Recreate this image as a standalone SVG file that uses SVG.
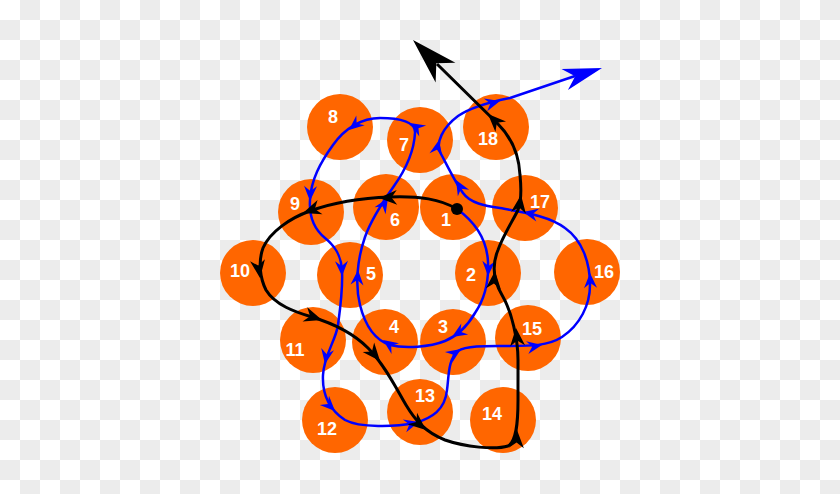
<svg xmlns="http://www.w3.org/2000/svg" width="840" height="494" viewBox="0 0 840 494">
<defs>
<pattern id="chk" width="40" height="40" patternUnits="userSpaceOnUse"><rect width="40" height="40" fill="#ffffff"/><rect x="20" y="0" width="20" height="20" fill="#ececec"/><rect x="0" y="20" width="20" height="20" fill="#ececec"/></pattern>
<path id="ab" d="M0,0 L-18,-7.5 L-12.5,0 L-18,7.5 Z" fill="#000"/>
<path id="au" d="M0,0 L-15,-6.5 L-10,0 L-15,6.5 Z" fill="#0000ff"/>
<path id="abig" d="M0,0 L-46,-14 L-33,0 L-46,14 Z" fill="#000"/>
<path id="ubig" d="M0,0 L-39,-11 L-28,0 L-39,11 Z" fill="#0000ff"/>
</defs>
<style>
.n circle{fill:#ff6600}
.n text{fill:#ffffff;font-family:"Liberation Sans",Arial,sans-serif;font-weight:bold;font-size:18px;text-anchor:middle}
.bk{fill:none;stroke:#000;stroke-width:3}
.bl{fill:none;stroke:#0000ff;stroke-width:2.5}
</style>
<rect width="840" height="494" fill="url(#chk)"/>
<g id="nodes" class="n">
<g id="n1"><circle cx="453" cy="207" r="33"/><text x="446" y="226">1</text></g>
<g id="n2"><circle cx="488" cy="273" r="33"/><text x="471" y="281">2</text></g>
<g id="n3"><circle cx="453" cy="342" r="33"/><text x="443" y="333">3</text></g>
<g id="n4"><circle cx="385" cy="342" r="33"/><text x="394" y="333">4</text></g>
<g id="n5"><circle cx="350" cy="275" r="33"/><text x="371" y="280">5</text></g>
<g id="n6"><circle cx="386" cy="207" r="33"/><text x="395" y="226">6</text></g>
<g id="n7"><circle cx="420" cy="140" r="33"/><text x="404" y="151">7</text></g>
<g id="n8"><circle cx="340" cy="127" r="33"/><text x="333" y="123">8</text></g>
<g id="n9"><circle cx="311" cy="212" r="33"/><text x="295" y="210">9</text></g>
<g id="n10"><circle cx="253" cy="273" r="33"/><text x="240" y="277">10</text></g>
<g id="n11"><circle cx="313" cy="340" r="33"/><text x="295" y="356">11</text></g>
<g id="n12"><circle cx="335" cy="420" r="33"/><text x="327" y="435">12</text></g>
<g id="n13"><circle cx="420" cy="412" r="33"/><text x="425" y="402">13</text></g>
<g id="n14"><circle cx="503" cy="420" r="33"/><text x="492" y="420">14</text></g>
<g id="n15"><circle cx="528" cy="338" r="33"/><text x="532" y="335">15</text></g>
<g id="n16"><circle cx="587" cy="272" r="33"/><text x="604" y="278">16</text></g>
<g id="n17"><circle cx="525" cy="208" r="33"/><text x="540" y="208">17</text></g>
<g id="n18"><circle cx="496" cy="127" r="33"/><text x="488" y="145">18</text></g>
</g>
<g id="connectors">
<path class="bl" d="M457,209 C475,222 487,240 488,262 C489,285 484,300 475,313 C468,325 457,336 445,341 C430,347 405,349 390,345 C375,340 365,325 360,305 C355,285 357,260 365,237 C371,220 382,203 394,186 C406,169 414,152 415,133 C416,122 400,118 380,118 C362,118 345,128 333,145 C320,163 311,180 310,200 C309,215 313,228 325,238 C335,246 341,255 342,270 C343,290 340,310 338,325 C336,340 324,355 323,375 C322,395 330,410 345,420 C360,428 395,427 415,423 C432,418 445,410 447,390 C449,375 448,360 458,351 C467,345 490,346 510,346 C530,346 548,346 562,337 C580,325 590,305 590,285 C590,262 582,240 565,228 C548,215 520,212 500,208 C485,206 470,203 463,193 C455,182 447,165 440,152 C436,143 442,128 458,116 C470,108 490,102 510,98 L575,76"/>
<use href="#ubig" transform="translate(602,68) rotate(-17)"/>
<use href="#au" transform="translate(488,276) rotate(93)"/>
<use href="#au" transform="translate(452,337) rotate(148)"/>
<use href="#au" transform="translate(383,340) rotate(215)"/>
<use href="#au" transform="translate(358,270) rotate(-86)"/>
<use href="#au" transform="translate(388,198) rotate(-58)"/>
<use href="#au" transform="translate(410,123) rotate(-148)"/>
<use href="#au" transform="translate(349,130) rotate(140)"/>
<use href="#au" transform="translate(310,201) rotate(92)"/>
<use href="#au" transform="translate(342,276) rotate(88)"/>
<use href="#au" transform="translate(325,364) rotate(100)"/>
<use href="#au" transform="translate(335,411) rotate(45)"/>
<use href="#au" transform="translate(419,422) rotate(-15)"/>
<use href="#au" transform="translate(461,349) rotate(-34)"/>
<use href="#au" transform="translate(542,345) rotate(-10)"/>
<use href="#au" transform="translate(590,273) rotate(-92)"/>
<use href="#au" transform="translate(523,212) rotate(192)"/>
<use href="#au" transform="translate(456,180) rotate(-120)"/>
<use href="#au" transform="translate(439,140) rotate(-78)"/>
<use href="#au" transform="translate(500,101) rotate(-15)"/>
<path class="bk" d="M457,209 C440,199 420,196 390,197 C360,198 332,203 310,211 C290,218 270,232 263,248 C258,262 260,278 266,290 C275,305 295,312 312,317 C335,324 355,335 368,348 C385,365 397,390 406,405 C415,420 425,432 445,440 C465,447 495,450 508,446 C516,442 518,425 518,400 L518,360 C518,340 512,312 502,295 C492,278 493,262 498,250 C503,236 512,222 518,210 C522,200 521,185 520,175 C519,155 512,138 498,124 L437,64"/>
<use href="#abig" transform="translate(413,40) rotate(-135)"/>
<use href="#ab" transform="translate(379,198) rotate(178)"/>
<use href="#ab" transform="translate(303,213) rotate(161)"/>
<use href="#ab" transform="translate(260,278) rotate(82)"/>
<use href="#ab" transform="translate(322,320) rotate(18)"/>
<use href="#ab" transform="translate(380,361) rotate(50)"/>
<use href="#ab" transform="translate(426,430) rotate(40)"/>
<use href="#ab" transform="translate(517,430) rotate(-88)"/>
<use href="#ab" transform="translate(516,328) rotate(-95)"/>
<use href="#ab" transform="translate(495,271) rotate(-85)"/>
<use href="#ab" transform="translate(521,195) rotate(-82)"/>
<use href="#ab" transform="translate(488,114) rotate(-135)"/>
<circle cx="457" cy="209" r="6" fill="#000"/>
</g>
</svg>
